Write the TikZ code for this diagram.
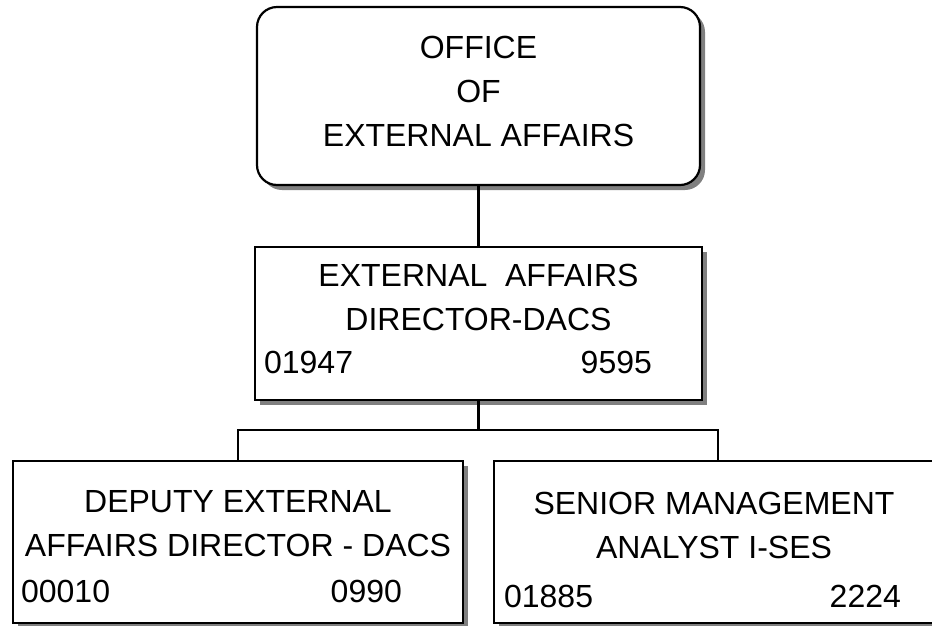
\documentclass[tikz,border=0pt]{standalone}
\usepackage{fontspec}
\setmainfont{Liberation Sans}
\usetikzlibrary{shadows}

\begin{document}
\begin{tikzpicture}[x=1pt, y=-1pt, line width=2.2pt,
  box/.style={draw, fill=white, rectangle, inner sep=0,
    drop shadow={shadow xshift=5pt, shadow yshift=-5pt, fill=gray, opacity=1}},
  title/.style={inner sep=0, align=center, font=\fontsize{32}{44}\selectfont},
  num/.style={inner sep=0, font=\fontsize{32}{44}\selectfont}]
\clip (0,0) rectangle (932,625);

% boxes
\node[box, rounded corners=20pt, minimum width=443, minimum height=178] (office) at (478.5,96) {};
\node[box, minimum width=447, minimum height=153] (director) at (478.5,323.5) {};
\node[box, minimum width=450, minimum height=162] (deputy) at (238,542) {};
\node[box, minimum width=448, minimum height=162] (analyst) at (718,542) {};

% titles
\node[title] (officetxt) at (478.5,91) {OFFICE\\OF\\EXTERNAL AFFAIRS};
\node[title] (directortxt) at (478.5,297.5) {EXTERNAL\ \ AFFAIRS\\DIRECTOR-DACS};
\node[title] (deputytxt) at (238,523.5) {DEPUTY EXTERNAL\\AFFAIRS DIRECTOR - DACS};
\node[title] (analysttxt) at (714,525) {SENIOR MANAGEMENT\\ANALYST I-SES};

% position numbers
\node[num, anchor=base west] (directorno) at (263,373) {01947};
\node[num, anchor=base east] (directorcl) at (653,373) {9595};
\node[num, anchor=base west] (deputyno) at (20,602) {00010};
\node[num, anchor=base east] (deputycl) at (403,602) {0990};
\node[num, anchor=base west] (analystno) at (503,607) {01885};
\node[num, anchor=base east] (analystcl) at (902,607) {2224};

% reporting lines
\coordinate (fork) at (478.5,430);
\draw (office.south) -- (director.north);
\draw (director.south) -- (fork);
\draw (deputy.north) |- (fork) -| (analyst.north);
\end{tikzpicture}
\end{document}
